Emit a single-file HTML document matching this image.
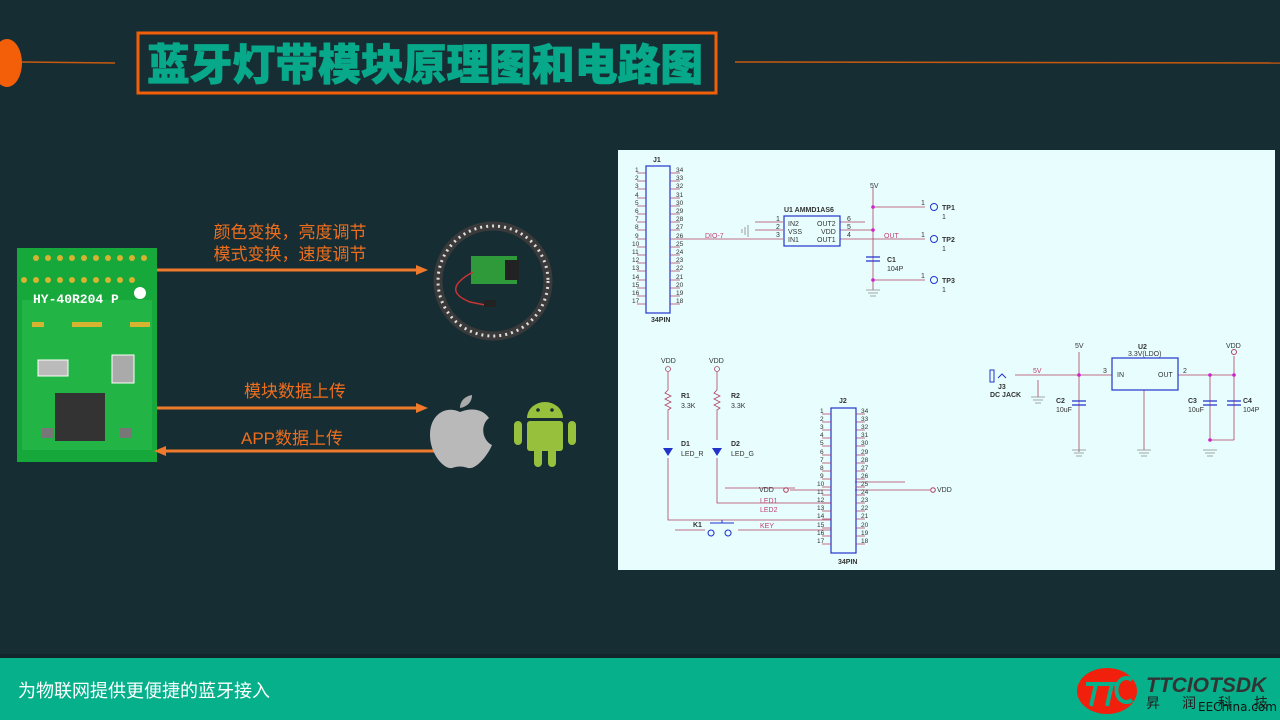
<!DOCTYPE html>
<html><head><meta charset="utf-8"><style>
html,body{margin:0;padding:0;width:1280px;height:720px;overflow:hidden;background:#172d34;font-family:"Liberation Sans","Noto Sans CJK SC",sans-serif}
</style></head><body>
<svg width="1280" height="720" viewBox="0 0 1280 720" xmlns="http://www.w3.org/2000/svg" style="position:absolute;left:0;top:0">
<rect width="1280" height="720" fill="#172d34"/>
<!-- header -->
<ellipse cx="7" cy="63" rx="15" ry="24" fill="#f35f08"/>
<line x1="22" y1="62" x2="115" y2="63" stroke="#c8590e" stroke-width="1.5"/>
<line x1="735" y1="62" x2="1280" y2="63" stroke="#c8590e" stroke-width="1.5"/>
<rect x="138" y="33" width="578" height="60" fill="none" stroke="#f35f08" stroke-width="3"/>
<text x="425" y="80" text-anchor="middle" font-size="43" font-weight="900" fill="#07a98a" stroke="#07a98a" stroke-width="0.8" font-family="Noto Sans CJK SC,sans-serif" textLength="556" lengthAdjust="spacingAndGlyphs">蓝牙灯带模块原理图和电路图</text>

<!-- PCB -->
<rect x="17" y="248" width="140" height="214" fill="#16a83a"/>
<rect x="22" y="300" width="130" height="150" fill="#22b545"/>
<g fill="#d6b431">
<circle cx="36" cy="258" r="3"/><circle cx="48" cy="258" r="3"/><circle cx="60" cy="258" r="3"/><circle cx="72" cy="258" r="3"/><circle cx="84" cy="258" r="3"/><circle cx="96" cy="258" r="3"/><circle cx="108" cy="258" r="3"/><circle cx="120" cy="258" r="3"/><circle cx="132" cy="258" r="3"/><circle cx="144" cy="258" r="3"/>
<circle cx="24" cy="280" r="3"/><circle cx="36" cy="280" r="3"/><circle cx="48" cy="280" r="3"/><circle cx="60" cy="280" r="3"/><circle cx="72" cy="280" r="3"/><circle cx="84" cy="280" r="3"/><circle cx="96" cy="280" r="3"/><circle cx="108" cy="280" r="3"/><circle cx="120" cy="280" r="3"/><circle cx="132" cy="280" r="3"/>
<rect x="32" y="322" width="12" height="5"/><rect x="72" y="322" width="30" height="5"/><rect x="130" y="322" width="20" height="5"/>
</g>
<circle cx="140" cy="293" r="6" fill="#fff"/>
<text x="33" y="303" font-size="13" fill="#fff" font-family="Liberation Mono,monospace" font-weight="bold">HY-40R204  P</text>
<rect x="55" y="393" width="50" height="48" fill="#333"/>
<rect x="38" y="360" width="30" height="16" fill="#bbb" stroke="#fff"/>
<rect x="112" y="355" width="22" height="28" fill="#aaa" stroke="#fff"/>
<rect x="42" y="428" width="12" height="10" fill="#777"/><rect x="120" y="428" width="12" height="10" fill="#777"/>
<!-- arrows -->
<g stroke="#ef7a2c" stroke-width="3" fill="#ef7a2c">
<line x1="157" y1="270" x2="418" y2="270"/><polygon points="428,270 416,265 416,275" stroke="none"/>
<line x1="157" y1="408" x2="418" y2="408"/><polygon points="428,408 416,403 416,413" stroke="none"/>
<line x1="165" y1="451" x2="434" y2="451"/><polygon points="154,451 166,446 166,456" stroke="none"/>
</g>
<g font-size="17" fill="#ee6e1d" font-family="Noto Sans CJK SC,sans-serif" text-anchor="middle">
<text x="290" y="238">颜色变换，亮度调节</text>
<text x="290" y="260">模式变换，速度调节</text>
<text x="295" y="397">模块数据上传</text>
<text x="292" y="444" font-family="Liberation Sans,Noto Sans CJK SC,sans-serif">APP数据上传</text>
</g>
<!-- LED ring -->
<circle cx="493" cy="281" r="55" fill="none" stroke="#3a3a3a" stroke-width="9"/>
<circle cx="493" cy="281" r="55" fill="none" stroke="#ddd" stroke-width="3" stroke-dasharray="2 4"/>
<rect x="471" y="256" width="46" height="28" fill="#2f9a3a"/>
<rect x="505" y="260" width="14" height="20" fill="#222"/>
<path d="M473 272 Q440 290 470 302 L485 305" fill="none" stroke="#c33" stroke-width="1.5"/>
<rect x="484" y="300" width="12" height="7" fill="#222"/>
<!-- apple -->
<path d="M460 412 C445 405 430 415 430 435 C430 455 445 470 452 468 C458 466 462 466 468 468 C476 470 488 455 492 445 C482 440 480 425 489 418 C482 408 470 408 460 412 Z" fill="#b9b9b9"/>
<path d="M460 408 C460 400 466 396 472 395 C472 403 466 407 460 408Z" fill="#aaa"/>
<!-- android -->
<g fill="#97c03d">
<path d="M527 418 A18 16 0 0 1 563 418 Z"/>
<rect x="527" y="421" width="36" height="30" rx="3"/>
<rect x="514" y="421" width="8" height="24" rx="4"/><rect x="568" y="421" width="8" height="24" rx="4"/>
<rect x="534" y="445" width="8" height="22" rx="4"/><rect x="548" y="445" width="8" height="22" rx="4"/>
</g>
<circle cx="538" cy="410" r="1.8" fill="#172d34"/><circle cx="552" cy="410" r="1.8" fill="#172d34"/>

<!-- schematic -->
<rect x="618" y="150" width="657" height="420" fill="#e8fefe"/>
<g font-family="Liberation Sans,sans-serif" font-size="7" fill="#333">
<!-- J1 -->
<rect x="646" y="166" width="24" height="147" fill="none" stroke="#2233cc" stroke-width="1.2"/>
<text x="653" y="162" font-weight="bold">J1</text><text x="651" y="322" font-weight="bold">34PIN</text>
<g stroke="#b04060" stroke-width="0.8">
<path d="M637 173h9M637 181h9M637 189h9M637 198h9M637 206h9M637 214h9M637 222h9M637 230h9M637 239h9M637 247h9M637 255h9M637 263h9M637 271h9M637 280h9M637 288h9M637 296h9M637 304h9"/>
<path d="M670 173h10M670 181h10M670 189h10M670 198h10M670 206h10M670 214h10M670 222h10M670 230h10M670 239h10M670 247h10M670 255h10M670 263h10M670 271h10M670 280h10M670 288h10M670 296h10M670 304h10"/>
<path d="M680 239H783M755 222h28M755 230h28M840 222h25M840 230h33M840 239h85M873 195v95M873 207h52M873 280h52M873 195v-8"/>
</g>
<g font-size="6.5">
<text x="635" y="172">1</text><text x="635" y="180">2</text><text x="635" y="188">3</text><text x="635" y="197">4</text><text x="635" y="205">5</text><text x="635" y="213">6</text><text x="635" y="221">7</text><text x="635" y="229">8</text><text x="635" y="238">9</text><text x="632" y="246">10</text><text x="632" y="254">11</text><text x="632" y="262">12</text><text x="632" y="270">13</text><text x="632" y="279">14</text><text x="632" y="287">15</text><text x="632" y="295">16</text><text x="632" y="303">17</text>
<text x="676" y="172">34</text><text x="676" y="180">33</text><text x="676" y="188">32</text><text x="676" y="197">31</text><text x="676" y="205">30</text><text x="676" y="213">29</text><text x="676" y="221">28</text><text x="676" y="229">27</text><text x="676" y="238">26</text><text x="676" y="246">25</text><text x="676" y="254">24</text><text x="676" y="262">23</text><text x="676" y="270">22</text><text x="676" y="279">21</text><text x="676" y="287">20</text><text x="676" y="295">19</text><text x="676" y="303">18</text>
</g>
<text x="705" y="238" fill="#c04070">DIO-7</text>
<rect x="784" y="216" width="56" height="30" fill="none" stroke="#2233cc" stroke-width="1.2"/>
<text x="784" y="212" font-weight="bold">U1   AMMD1AS6</text>
<text x="788" y="226">IN2</text><text x="788" y="234">VSS</text><text x="788" y="242">IN1</text>
<text x="817" y="226">OUT2</text><text x="821" y="234">VDD</text><text x="817" y="242">OUT1</text>
<text x="776" y="221">1</text><text x="776" y="229">2</text><text x="776" y="237">3</text><text x="847" y="221">6</text><text x="847" y="229">5</text><text x="847" y="237">4</text>
<text x="870" y="188">5V</text><text x="884" y="238" fill="#c04070">OUT</text>
<text x="887" y="262" font-weight="bold">C1</text><text x="887" y="271">104P</text>
<path d="M866 257h14M866 261h14" stroke="#2233cc" stroke-width="1.2"/>
<g fill="#d020d0"><circle cx="873" cy="207" r="1.8"/><circle cx="873" cy="230" r="1.8"/><circle cx="873" cy="280" r="1.8"/></g>
<g fill="none" stroke="#2233cc" stroke-width="1"><circle cx="934" cy="207" r="3.5"/><circle cx="934" cy="239" r="3.5"/><circle cx="934" cy="280" r="3.5"/></g>
<text x="942" y="210" font-weight="bold">TP1</text><text x="942" y="242" font-weight="bold">TP2</text><text x="942" y="283" font-weight="bold">TP3</text>
<text x="921" y="205">1</text><text x="921" y="237">1</text><text x="921" y="278">1</text>
<text x="942" y="219">1</text><text x="942" y="251">1</text><text x="942" y="292">1</text>
<path d="M866 290h14M868 293h10M870 296h6M748 225v12M745 227v8M742 229v4" stroke="#888" stroke-width="0.8"/>

<!-- LED section -->
<text x="661" y="363">VDD</text><text x="709" y="363">VDD</text>
<g fill="none" stroke="#b04060" stroke-width="0.8"><circle cx="668" cy="369" r="2.5"/><circle cx="717" cy="369" r="2.5"/>
<path d="M668 372v18l-3 3 6 3-6 3 6 3-6 3 6 3-3 2v30M717 372v18l-3 3 6 3-6 3 6 3-6 3 6 3-3 2v30M668 458v62h163M717 458v45h114M675 530h30M738 530h93M790 490h41M795 488h-70M855 490h75M855 482h50"/>
</g>
<g fill="#2233cc"><polygon points="663,448 673,448 668,456"/><polygon points="712,448 722,448 717,456"/></g>
<text x="681" y="398" font-weight="bold">R1</text><text x="681" y="408">3.3K</text><text x="731" y="398" font-weight="bold">R2</text><text x="731" y="408">3.3K</text>
<text x="681" y="446" font-weight="bold">D1</text><text x="681" y="456">LED_R</text><text x="731" y="446" font-weight="bold">D2</text><text x="731" y="456">LED_G</text>
<text x="759" y="492">VDD</text><text x="937" y="492">VDD</text>
<circle cx="786" cy="490" r="2.3" fill="none" stroke="#b04060"/><circle cx="933" cy="490" r="2.3" fill="none" stroke="#b04060"/>
<text x="760" y="503" fill="#c04070">LED1</text><text x="760" y="512" fill="#c04070">LED2</text><text x="760" y="528" fill="#c04070">KEY</text>
<text x="693" y="527" font-weight="bold">K1</text>
<path d="M711 530a3 3 0 1 0 .1 0M728 530a3 3 0 1 0 .1 0M710 523h24M722 523v-3" fill="none" stroke="#2233cc" stroke-width="1"/>
<!-- J2 -->
<rect x="831" y="408" width="25" height="145" fill="none" stroke="#2233cc" stroke-width="1.2"/>
<text x="839" y="403" font-weight="bold">J2</text><text x="838" y="564" font-weight="bold">34PIN</text>
<g stroke="#b04060" stroke-width="0.8">
<path d="M822 414h9M822 422h9M822 430h9M822 438h9M822 446h9M822 455h9M822 463h9M822 471h9M822 479h9M822 487h9M822 495h9M822 503h9M822 511h9M822 519h9M822 528h9M822 536h9M822 544h9"/>
<path d="M856 414h9M856 422h9M856 430h9M856 438h9M856 446h9M856 455h9M856 463h9M856 471h9M856 479h9M856 487h9M856 495h9M856 503h9M856 511h9M856 519h9M856 528h9M856 536h9M856 544h9"/>
</g>
<g font-size="6.5">
<text x="820" y="413">1</text><text x="820" y="421">2</text><text x="820" y="429">3</text><text x="820" y="437">4</text><text x="820" y="445">5</text><text x="820" y="454">6</text><text x="820" y="462">7</text><text x="820" y="470">8</text><text x="820" y="478">9</text><text x="817" y="486">10</text><text x="817" y="494">11</text><text x="817" y="502">12</text><text x="817" y="510">13</text><text x="817" y="518">14</text><text x="817" y="527">15</text><text x="817" y="535">16</text><text x="817" y="543">17</text>
<text x="861" y="413">34</text><text x="861" y="421">33</text><text x="861" y="429">32</text><text x="861" y="437">31</text><text x="861" y="445">30</text><text x="861" y="454">29</text><text x="861" y="462">28</text><text x="861" y="470">27</text><text x="861" y="478">26</text><text x="861" y="486">25</text><text x="861" y="494">24</text><text x="861" y="502">23</text><text x="861" y="510">22</text><text x="861" y="518">21</text><text x="861" y="527">20</text><text x="861" y="535">19</text><text x="861" y="543">18</text>
</g>
<!-- power section -->
<g fill="none" stroke="#b04060" stroke-width="0.8">
<path d="M1015 375h97M1079 352v100M1178 375h56M1210 375v65h24M1234 356v84M1144 390v60M1038 380v17"/>
</g>
<path d="M990 370v12h4v-12zM998 378l4 -4 4 4" fill="none" stroke="#2233cc" stroke-width="1"/>
<rect x="1112" y="358" width="66" height="32" fill="none" stroke="#2233cc" stroke-width="1.2"/>
<text x="1138" y="349" font-weight="bold">U2</text><text x="1128" y="356">3.3V(LDO)</text>
<text x="1117" y="377">IN</text><text x="1158" y="377">OUT</text><text x="1103" y="373">3</text><text x="1183" y="373">2</text>
<text x="1075" y="348">5V</text><text x="1226" y="348">VDD</text><text x="1033" y="373" fill="#c04070">5V</text>
<circle cx="1234" cy="352" r="2.5" fill="none" stroke="#b04060"/>
<text x="998" y="389" font-weight="bold">J3</text><text x="990" y="397" font-weight="bold">DC JACK</text>
<text x="1056" y="403" font-weight="bold">C2</text><text x="1056" y="412">10uF</text>
<text x="1188" y="403" font-weight="bold">C3</text><text x="1188" y="412">10uF</text>
<text x="1243" y="403" font-weight="bold">C4</text><text x="1243" y="412">104P</text>
<path d="M1072 401h14M1072 405h14M1203 401h14M1203 405h14M1227 401h14M1227 405h14" stroke="#2233cc" stroke-width="1.2"/>
<g fill="#d020d0"><circle cx="1079" cy="375" r="1.8"/><circle cx="1210" cy="375" r="1.8"/><circle cx="1234" cy="375" r="1.8"/><circle cx="1210" cy="440" r="1.8"/></g>
<path d="M1031 397h14M1033 400h10M1035 403h6M1072 450h14M1074 453h10M1076 456h6M1137 450h14M1139 453h10M1141 456h6M1203 450h14M1205 453h10M1207 456h6" stroke="#888" stroke-width="0.8"/>
</g>

<!-- footer -->
<rect x="0" y="658" width="1280" height="62" fill="#06b08a"/>
<rect x="0" y="654" width="1280" height="4" fill="#13252b"/>
<text x="18" y="697" font-size="18" fill="#fff" font-family="Noto Sans CJK SC,sans-serif">为物联网提供更便捷的蓝牙接入</text>
<ellipse cx="1107" cy="691" rx="30" ry="23" fill="#f0200c"/>
<g stroke="#06b08a" stroke-width="4" fill="none"><path d="M1086 684h18M1096 684l-5 22M1104 684h14M1112 684l-5 22"/><path d="M1132 680a10 12 0 1 0 0 20"/></g>
<text x="1146" y="692" font-size="21" font-weight="bold" font-style="italic" fill="#333" font-family="Liberation Sans,sans-serif">TTCIOTSDK</text>
<text x="1146" y="708" font-size="14" fill="#222" font-family="Noto Sans CJK SC,sans-serif" letter-spacing="22">昇润科技</text>
<text x="1198" y="711" font-size="12" fill="#111" font-family="DejaVu Sans,sans-serif">EEChina.com</text>
</svg>
</body></html>
